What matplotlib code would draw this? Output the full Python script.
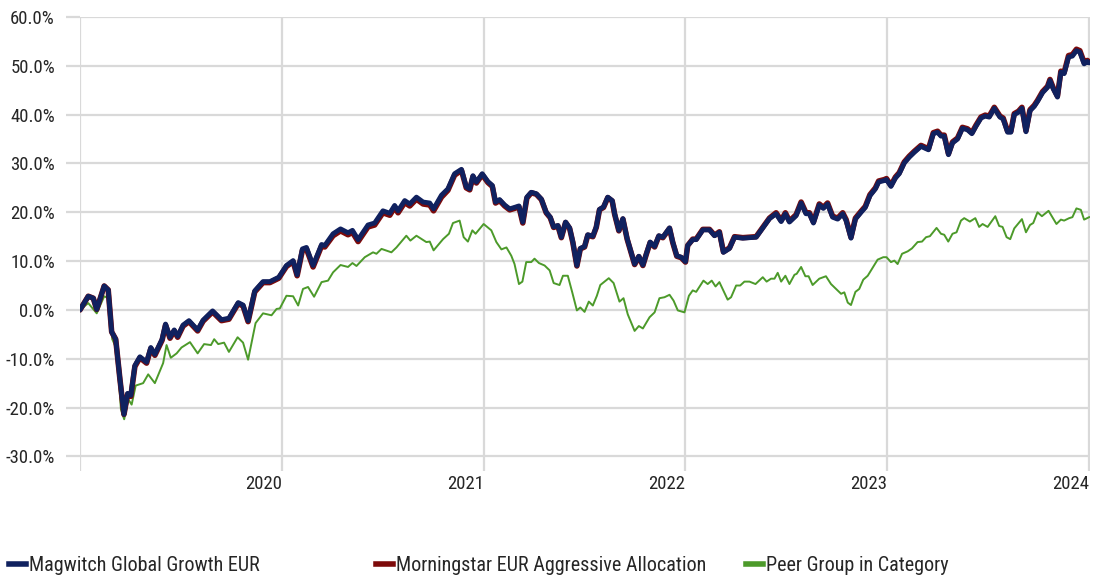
import matplotlib
matplotlib.use('Agg')
import matplotlib.pyplot as plt
from matplotlib.lines import Line2D
from matplotlib.ticker import FuncFormatter

plt.rcParams['font.family'] = ['Roboto Condensed', 'Roboto', 'DejaVu Sans']
plt.rcParams['font.stretch'] = 'condensed'

start_year = 2019

# years since start of 2019
navy_t = [0.000, 0.041, 0.066, 0.083, 0.120, 0.140, 0.157, 0.177, 0.198, 0.218,
          0.236, 0.252, 0.272, 0.297, 0.330, 0.351, 0.371, 0.407, 0.424, 0.446,
          0.467, 0.484, 0.511, 0.540, 0.583, 0.610, 0.657, 0.701, 0.738, 0.784,
          0.808, 0.833, 0.866, 0.907, 0.941, 0.985, 1.023, 1.056, 1.076, 1.102,
          1.122, 1.155, 1.197, 1.213, 1.254, 1.291, 1.328, 1.350, 1.378, 1.427,
          1.460, 1.501, 1.535, 1.559, 1.576, 1.609, 1.634, 1.667, 1.700, 1.733,
          1.752, 1.791, 1.823, 1.856, 1.890, 1.914, 1.931, 1.947, 1.964, 1.993,
          2.021, 2.043, 2.059, 2.079, 2.104, 2.129, 2.153, 2.175, 2.194, 2.214,
          2.236, 2.261, 2.286, 2.310, 2.330, 2.347, 2.368, 2.385, 2.406, 2.426,
          2.442, 2.462, 2.479, 2.500, 2.516, 2.541, 2.558, 2.574, 2.594, 2.615,
          2.637, 2.649, 2.670, 2.690, 2.711, 2.731, 2.748, 2.769, 2.789, 2.806,
          2.825, 2.847, 2.868, 2.888, 2.921, 2.937, 2.957, 2.979, 3.000, 3.011,
          3.036, 3.053, 3.086, 3.119, 3.144, 3.168, 3.188, 3.218, 3.243, 3.284,
          3.350, 3.383, 3.416, 3.449, 3.474, 3.495, 3.515, 3.548, 3.573, 3.597,
          3.614, 3.634, 3.663, 3.683, 3.704, 3.729, 3.754, 3.779, 3.796, 3.820,
          3.842, 3.870, 3.891, 3.914, 3.941, 3.957, 3.985, 3.996, 4.018, 4.040,
          4.059, 4.084, 4.109, 4.134, 4.167, 4.204, 4.228, 4.249, 4.266, 4.282,
          4.303, 4.323, 4.348, 4.372, 4.397, 4.419, 4.439, 4.464, 4.485, 4.505,
          4.530, 4.558, 4.574, 4.596, 4.612, 4.629, 4.650, 4.667, 4.687, 4.707,
          4.728, 4.744, 4.769, 4.794, 4.806, 4.822, 4.843, 4.860, 4.876, 4.898,
          4.917, 4.937, 4.954, 4.975, 4.991, 5.000]

magwitch = [0.0, 2.8, 2.4, 0.1, 4.9, 4.1, -4.5, -6.0, -14.2, -21.4,
            -17.1, -17.5, -11.4, -9.6, -10.7, -7.7, -9.1, -6.0, -2.9, -5.6,
            -4.1, -5.4, -3.1, -2.2, -4.1, -2.1, -0.2, -2.0, -1.7, 1.5,
            1.0, -2.2, 3.9, 5.8, 5.8, 6.7, 9.1, 10.1, 7.2, 12.5,
            12.8, 9.1, 13.4, 13.2, 15.6, 16.6, 15.8, 16.3, 14.4, 17.4,
            17.8, 20.3, 19.8, 21.4, 20.3, 22.4, 21.7, 23.1, 22.1, 21.9,
            20.7, 23.5, 24.8, 27.9, 28.8, 25.2, 24.8, 27.5, 26.2, 27.9,
            26.3, 25.5, 22.1, 22.6, 21.5, 20.7, 21.0, 21.3, 18.0, 23.1,
            24.1, 23.8, 22.7, 20.0, 19.0, 17.0, 17.3, 14.9, 18.0, 16.8,
            13.9, 9.1, 12.6, 13.0, 15.4, 15.1, 17.0, 20.6, 21.1, 23.1,
            22.4, 19.7, 16.3, 18.7, 14.6, 11.8, 9.4, 11.0, 9.2, 11.5,
            13.9, 13.0, 15.2, 14.9, 16.8, 13.9, 11.1, 10.8, 9.9, 13.2,
            14.4, 14.4, 16.4, 16.4, 15.2, 15.9, 11.8, 12.6, 14.9, 14.7,
            14.9, 16.8, 18.7, 19.7, 18.1, 19.7, 18.0, 19.3, 21.9, 19.7,
            19.7, 17.8, 21.5, 20.8, 21.7, 19.0, 18.6, 19.7, 18.3, 14.7,
            18.6, 20.0, 21.0, 23.4, 24.8, 26.2, 26.5, 26.7, 25.3, 27.0,
            27.9, 30.1, 31.3, 32.3, 33.5, 32.8, 36.1, 36.4, 35.6, 35.6,
            31.8, 34.2, 35.0, 37.2, 36.9, 36.1, 37.6, 39.3, 39.7, 39.5,
            41.3, 39.5, 39.1, 36.4, 36.4, 40.0, 40.5, 41.3, 36.5, 40.8,
            41.7, 42.7, 44.5, 45.6, 47.0, 45.3, 43.6, 48.7, 48.4, 51.8,
            52.0, 53.1, 52.8, 50.4, 50.9, 50.6]

morningstar = [0.0, 2.8, 2.4, 0.1, 4.9, 4.1, -4.5, -6.0, -14.2, -21.4,
               -17.3, -17.7, -11.6, -9.8, -10.9, -7.9, -9.3, -6.2, -3.1, -5.8,
               -4.3, -5.6, -3.3, -2.4, -4.3, -2.3, -0.4, -2.2, -1.9, 1.3,
               0.8, -2.4, 3.7, 5.6, 5.6, 6.5, 8.9, 9.9, 7.0, 12.2,
               12.5, 8.8, 13.1, 12.9, 15.2, 16.2, 15.4, 15.9, 14.0, 17.0,
               17.4, 19.9, 19.4, 21.0, 19.9, 22.0, 21.3, 22.7, 21.7, 21.5,
               20.3, 23.1, 24.5, 27.6, 28.6, 25.0, 24.6, 27.3, 26.0, 27.7,
               26.1, 25.3, 21.9, 22.4, 21.3, 20.5, 20.8, 21.1, 17.8, 22.9,
               24.0, 23.7, 22.6, 19.9, 18.9, 16.9, 17.2, 14.8, 17.9, 16.7,
               13.8, 9.0, 12.5, 12.9, 15.3, 15.0, 16.9, 20.5, 21.0, 23.0,
               22.3, 19.6, 16.2, 18.6, 14.5, 11.7, 9.3, 10.9, 9.1, 11.4,
               13.8, 12.9, 15.1, 14.8, 16.7, 13.8, 11.0, 10.7, 9.8, 13.2,
               14.5, 14.5, 16.5, 16.5, 15.3, 16.0, 11.9, 12.7, 15.0, 14.8,
               15.0, 16.9, 18.8, 19.9, 18.3, 19.9, 18.2, 19.5, 22.1, 19.9,
               19.9, 18.0, 21.7, 21.0, 21.9, 19.2, 18.8, 19.9, 18.5, 14.9,
               18.8, 20.2, 21.2, 23.6, 25.0, 26.4, 26.7, 26.9, 25.5, 27.2,
               28.1, 30.3, 31.5, 32.5, 33.7, 33.0, 36.3, 36.6, 35.8, 35.8,
               32.0, 34.4, 35.2, 37.4, 37.1, 36.3, 37.8, 39.5, 39.9, 39.7,
               41.5, 39.7, 39.3, 36.6, 36.6, 40.2, 40.7, 41.5, 36.7, 41.0,
               41.9, 42.9, 44.7, 45.8, 47.2, 45.5, 43.8, 48.9, 48.6, 52.1,
               52.3, 53.4, 53.1, 50.7, 51.1, 50.8]

peer_t = [0.000, 0.041, 0.083, 0.120, 0.140, 0.160, 0.182, 0.203, 0.219, 0.239,
          0.256, 0.276, 0.313, 0.338, 0.371, 0.412, 0.429, 0.450, 0.479, 0.503,
          0.545, 0.583, 0.615, 0.649, 0.665, 0.685, 0.714, 0.738, 0.781, 0.808,
          0.833, 0.870, 0.907, 0.949, 0.974, 0.990, 1.023, 1.056, 1.081, 1.105,
          1.130, 1.160, 1.197, 1.229, 1.254, 1.291, 1.328, 1.350, 1.370, 1.411,
          1.452, 1.469, 1.494, 1.543, 1.568, 1.617, 1.637, 1.667, 1.716, 1.733,
          1.752, 1.799, 1.828, 1.848, 1.881, 1.901, 1.922, 1.944, 1.960, 2.000,
          2.038, 2.063, 2.088, 2.113, 2.137, 2.153, 2.175, 2.192, 2.211, 2.236,
          2.252, 2.274, 2.302, 2.327, 2.347, 2.376, 2.393, 2.417, 2.439, 2.462,
          2.479, 2.500, 2.521, 2.541, 2.561, 2.578, 2.599, 2.620, 2.644, 2.673,
          2.693, 2.714, 2.748, 2.769, 2.789, 2.822, 2.847, 2.871, 2.896, 2.921,
          2.941, 2.962, 2.995, 3.017, 3.036, 3.053, 3.089, 3.110, 3.130, 3.149,
          3.168, 3.209, 3.226, 3.251, 3.271, 3.292, 3.317, 3.347, 3.383, 3.402,
          3.424, 3.441, 3.457, 3.474, 3.495, 3.515, 3.540, 3.551, 3.573, 3.594,
          3.610, 3.630, 3.663, 3.696, 3.721, 3.746, 3.771, 3.787, 3.804, 3.820,
          3.842, 3.861, 3.881, 3.903, 3.924, 3.952, 3.980, 3.996, 4.018, 4.035,
          4.051, 4.073, 4.101, 4.122, 4.150, 4.172, 4.192, 4.211, 4.244, 4.266,
          4.282, 4.302, 4.323, 4.343, 4.365, 4.381, 4.409, 4.436, 4.455, 4.472,
          4.497, 4.535, 4.554, 4.571, 4.591, 4.609, 4.629, 4.667, 4.687, 4.707,
          4.723, 4.744, 4.766, 4.799, 4.838, 4.860, 4.876, 4.901, 4.917, 4.937,
          4.959, 4.975, 5.000]

peer = [0.0, 1.4, -0.7, 2.8, 2.4, -6.0, -8.0, -20.4, -22.4, -18.3,
        -19.4, -15.5, -15.0, -13.2, -15.0, -10.9, -7.2, -9.8, -8.9, -7.7,
        -6.6, -8.9, -7.0, -7.2, -6.0, -7.0, -6.7, -8.6, -5.6, -6.7,
        -10.2, -2.7, -0.7, -1.1, 0.2, 0.3, 2.9, 2.8, 0.9, 4.3,
        4.7, 2.7, 5.7, 6.0, 7.7, 9.2, 8.8, 9.6, 9.0, 10.8,
        11.8, 11.5, 12.5, 11.8, 12.8, 15.2, 14.2, 15.2, 13.9, 14.0,
        12.2, 14.5, 15.6, 17.8, 18.3, 14.9, 14.0, 16.3, 15.6, 17.6,
        16.3, 13.9, 12.4, 12.8, 11.1, 9.4, 5.3, 5.8, 9.8, 9.8,
        10.5, 9.6, 9.1, 8.1, 5.5, 5.1, 7.0, 7.0, 3.6, -0.1,
        0.5, -0.4, 1.7, 0.9, 2.9, 5.1, 5.8, 6.5, 5.5, 1.7,
        2.4, -0.9, -4.3, -3.3, -3.8, -1.5, -0.5, 2.4, 2.6, 3.1,
        1.9, -0.1, -0.5, 2.9, 4.0, 3.7, 6.0, 5.3, 6.0, 4.8,
        5.7, 2.1, 2.6, 5.0, 5.0, 5.8, 5.8, 5.3, 6.7, 5.8,
        6.4, 6.4, 7.6, 5.8, 7.0, 5.3, 7.2, 7.4, 8.8, 6.9,
        6.9, 5.1, 6.4, 6.9, 5.3, 4.3, 3.3, 3.6, 1.5, 1.0,
        3.7, 4.3, 6.2, 7.0, 8.4, 10.3, 10.8, 10.8, 9.8, 10.1,
        9.4, 11.5, 12.0, 12.6, 13.9, 14.0, 14.9, 15.1, 16.8, 15.6,
        15.4, 14.0, 15.6, 15.9, 18.3, 18.8, 18.1, 18.8, 17.0, 17.6,
        17.0, 19.2, 17.2, 17.0, 14.9, 14.5, 16.7, 18.6, 15.9, 17.4,
        17.8, 20.0, 19.2, 20.3, 17.6, 18.5, 18.3, 18.8, 19.0, 20.8,
        20.5, 18.5, 19.0]

years = [2019, 2020, 2021, 2022, 2023, 2024]
year_labels = ['', '2020', '2021', '2022', '2023', '2024']
yticks = [-30, -20, -10, 0, 10, 20, 30, 40, 50, 60]

names = ['Magwitch Global Growth EUR', 'Morningstar EUR Aggressive Allocation', 'Peer Group in Category']
colors = ['#10215f', '#7d0a0a', '#4c9a2a']

fig = plt.figure(figsize=(10.94, 5.79), dpi=100)
ax = fig.add_axes([0.0731, 0.1865, 0.9232, 0.7841])

nx = [start_year + t for t in navy_t]
px = [start_year + t for t in peer_t]

ax.plot(px, peer, color=colors[2], lw=1.4, zorder=2)
ax.plot(nx, morningstar, color=colors[1], lw=4.0, solid_joinstyle='round', solid_capstyle='round', zorder=3)
ax.plot(nx, magwitch, color=colors[0], lw=3.5, solid_joinstyle='round', solid_capstyle='round', zorder=4)

ax.set_xlim(2019, 2024.004)
ax.set_ylim(-33, 60)
ax.set_yticks(yticks)
ax.yaxis.set_major_formatter(FuncFormatter(lambda v, p: f'{v:.1f}%'))
ax.set_xticks(years)
ax.set_xticklabels(year_labels)
for lbl in ax.get_xticklabels():
    lbl.set_ha('right')

ax.grid(True, color='#d9d9d9', lw=1.6, zorder=0)
ax.set_axisbelow(True)
for s in ax.spines.values():
    s.set_visible(False)
ax.tick_params(axis='y', length=10, width=1.6, color='#d9d9d9', pad=8,
               labelsize=13.5, labelcolor='#262626')
ax.tick_params(axis='x', length=0, pad=3, labelsize=13.5, labelcolor='#262626')

leg_x = [0.008, 0.344, 0.682]
for name, c, lx in zip(names, colors, leg_x):
    fig.legend(handles=[Line2D([], [], color=c, lw=4)], labels=[name],
               loc='center left', bbox_to_anchor=(lx, 0.024), frameon=False,
               handlelength=0.85, handletextpad=0.15, borderpad=0,
               borderaxespad=0, fontsize=14.5, labelcolor='#262626')

fig.savefig('out.png', dpi=100)
